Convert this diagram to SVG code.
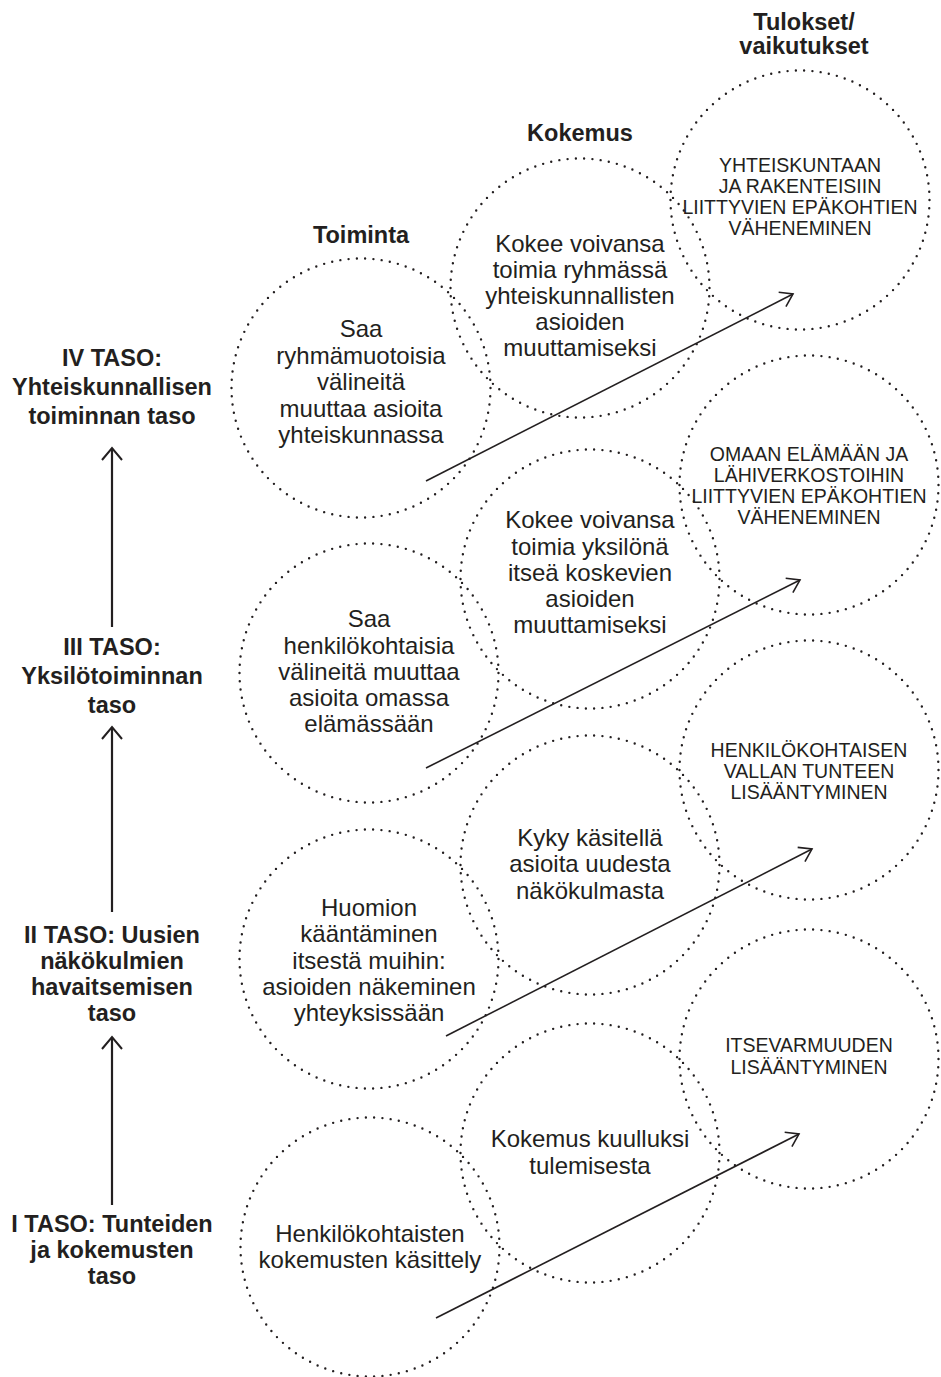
<svg xmlns="http://www.w3.org/2000/svg" width="941" height="1377" viewBox="0 0 941 1377">
  <style>
    .ring { fill: none; stroke: #231f20; stroke-width: 2.4; stroke-linecap: round; stroke-dasharray: 0 1; }
    .body { font-family: "Liberation Sans", Arial, sans-serif; font-size: 24px; fill: #231f20; text-anchor: middle; }
    .caps { font-family: "Liberation Sans", Arial, sans-serif; font-size: 19.5px; fill: #231f20; text-anchor: middle; }
    .head { font-family: "Liberation Sans", Arial, sans-serif; font-size: 23.5px; font-weight: bold; fill: #231f20; text-anchor: middle; }
    .flow { fill: none; stroke: #231f20; stroke-width: 1.6; }
    .rise { fill: none; stroke: #231f20; stroke-width: 2.2; }
  </style>
  <defs>
    <marker id="tipThin" markerUnits="userSpaceOnUse" viewBox="-14 -10 16 20" refX="0" refY="0" markerWidth="16" markerHeight="20" orient="auto" overflow="visible">
      <path d="M-12,-8 L0,0 L-12,8" fill="none" stroke="#231f20" stroke-width="1.6"/>
    </marker>
    <marker id="tipBold" markerUnits="userSpaceOnUse" viewBox="-14 -12 16 24" refX="0" refY="0" markerWidth="16" markerHeight="24" orient="auto" overflow="visible">
      <path d="M-12,-10 L0,0 L-12,10" fill="none" stroke="#231f20" stroke-width="2"/>
    </marker>
  </defs>

  <rect width="941" height="1377" fill="#ffffff"/>

  <!-- column headings -->
  <g id="headings">
    <text class="head" x="361" y="243">Toiminta</text>
    <text class="head" x="580" y="141">Kokemus</text>
    <text class="head" x="804" y="30">Tulokset/</text>
    <text class="head" x="804" y="54">vaikutukset</text>
  </g>

  <!-- level labels on the left -->
  <g id="level-4">
    <text class="head" x="112" y="366">IV TASO:</text>
    <text class="head" x="112" y="395">Yhteiskunnallisen</text>
    <text class="head" x="112" y="424">toiminnan taso</text>
  </g>
  <g id="level-3">
    <text class="head" x="112" y="655">III TASO:</text>
    <text class="head" x="112" y="684">Yksilötoiminnan</text>
    <text class="head" x="112" y="713">taso</text>
  </g>
  <g id="level-2">
    <text class="head" x="112" y="943">II TASO: Uusien</text>
    <text class="head" x="112" y="969">näkökulmien</text>
    <text class="head" x="112" y="995">havaitsemisen</text>
    <text class="head" x="112" y="1021">taso</text>
  </g>
  <g id="level-1">
    <text class="head" x="112" y="1232">I TASO: Tunteiden</text>
    <text class="head" x="112" y="1258">ja kokemusten</text>
    <text class="head" x="112" y="1284">taso</text>
  </g>

  <!-- level IV -->
  <g id="action-4">
    <circle class="ring" cx="361" cy="388" r="129.5" pathLength="98"/>
    <text class="body" x="361" y="337">Saa</text>
    <text class="body" x="361" y="364">ryhmämuotoisia</text>
    <text class="body" x="361" y="390">välineitä</text>
    <text class="body" x="361" y="417">muuttaa asioita</text>
    <text class="body" x="361" y="443">yhteiskunnassa</text>
  </g>
  <g id="experience-4">
    <circle class="ring" cx="580" cy="288" r="129.5" pathLength="98"/>
    <text class="body" x="580" y="252">Kokee voivansa</text>
    <text class="body" x="580" y="278">toimia ryhmässä</text>
    <text class="body" x="580" y="304">yhteiskunnallisten</text>
    <text class="body" x="580" y="330">asioiden</text>
    <text class="body" x="580" y="356">muuttamiseksi</text>
  </g>
  <g id="outcome-4">
    <circle class="ring" cx="800" cy="200" r="129.5" pathLength="98"/>
    <text class="caps" x="800" y="172">YHTEISKUNTAAN</text>
    <text class="caps" x="800" y="193">JA RAKENTEISIIN</text>
    <text class="caps" x="800" y="214">LIITTYVIEN EPÄKOHTIEN</text>
    <text class="caps" x="800" y="235">VÄHENEMINEN</text>
  </g>

  <!-- level III -->
  <g id="action-3">
    <circle class="ring" cx="369" cy="673" r="129.5" pathLength="98"/>
    <text class="body" x="369" y="627">Saa</text>
    <text class="body" x="369" y="654">henkilökohtaisia</text>
    <text class="body" x="369" y="680">välineitä muuttaa</text>
    <text class="body" x="369" y="706">asioita omassa</text>
    <text class="body" x="369" y="732">elämässään</text>
  </g>
  <g id="experience-3">
    <circle class="ring" cx="590" cy="579" r="129.5" pathLength="98"/>
    <text class="body" x="590" y="528">Kokee voivansa</text>
    <text class="body" x="590" y="555">toimia yksilönä</text>
    <text class="body" x="590" y="581">itseä koskevien</text>
    <text class="body" x="590" y="607">asioiden</text>
    <text class="body" x="590" y="633">muuttamiseksi</text>
  </g>
  <g id="outcome-3">
    <circle class="ring" cx="809" cy="485" r="129.5" pathLength="98"/>
    <text class="caps" x="809" y="461">OMAAN ELÄMÄÄN JA</text>
    <text class="caps" x="809" y="482">LÄHIVERKOSTOIHIN</text>
    <text class="caps" x="809" y="503">LIITTYVIEN EPÄKOHTIEN</text>
    <text class="caps" x="809" y="524">VÄHENEMINEN</text>
  </g>

  <!-- level II -->
  <g id="action-2">
    <circle class="ring" cx="369" cy="959" r="129.5" pathLength="98"/>
    <text class="body" x="369" y="916">Huomion</text>
    <text class="body" x="369" y="942">kääntäminen</text>
    <text class="body" x="369" y="969">itsestä muihin:</text>
    <text class="body" x="369" y="995">asioiden näkeminen</text>
    <text class="body" x="369" y="1021">yhteyksissään</text>
  </g>
  <g id="experience-2">
    <circle class="ring" cx="590" cy="865" r="129.5" pathLength="98"/>
    <text class="body" x="590" y="846">Kyky käsitellä</text>
    <text class="body" x="590" y="872">asioita uudesta</text>
    <text class="body" x="590" y="899">näkökulmasta</text>
  </g>
  <g id="outcome-2">
    <circle class="ring" cx="809" cy="770" r="129.5" pathLength="98"/>
    <text class="caps" x="809" y="757">HENKILÖKOHTAISEN</text>
    <text class="caps" x="809" y="778">VALLAN TUNTEEN</text>
    <text class="caps" x="809" y="799">LISÄÄNTYMINEN</text>
  </g>

  <!-- level I -->
  <g id="action-1">
    <circle class="ring" cx="370" cy="1247" r="129.5" pathLength="98"/>
    <text class="body" x="370" y="1242">Henkilökohtaisten</text>
    <text class="body" x="370" y="1268">kokemusten käsittely</text>
  </g>
  <g id="experience-1">
    <circle class="ring" cx="590" cy="1153" r="129.5" pathLength="98"/>
    <text class="body" x="590" y="1147">Kokemus kuulluksi</text>
    <text class="body" x="590" y="1174">tulemisesta</text>
  </g>
  <g id="outcome-1">
    <circle class="ring" cx="809" cy="1059" r="129.5" pathLength="98"/>
    <text class="caps" x="809" y="1052">ITSEVARMUUDEN</text>
    <text class="caps" x="809" y="1074">LISÄÄNTYMINEN</text>
  </g>

  <!-- connectors -->
  <g id="connectors">
    <line class="flow" x1="426" y1="481" x2="793" y2="294" marker-end="url(#tipThin)"/>
    <line class="flow" x1="426" y1="768" x2="800" y2="580" marker-end="url(#tipThin)"/>
    <line class="flow" x1="446" y1="1036" x2="812" y2="849" marker-end="url(#tipThin)"/>
    <line class="flow" x1="436" y1="1318" x2="799" y2="1134" marker-end="url(#tipThin)"/>
    <line class="rise" x1="112" y1="627" x2="112" y2="448" marker-end="url(#tipBold)"/>
    <line class="rise" x1="112" y1="912" x2="112" y2="727" marker-end="url(#tipBold)"/>
    <line class="rise" x1="112" y1="1205" x2="112" y2="1037" marker-end="url(#tipBold)"/>
  </g>
</svg>
